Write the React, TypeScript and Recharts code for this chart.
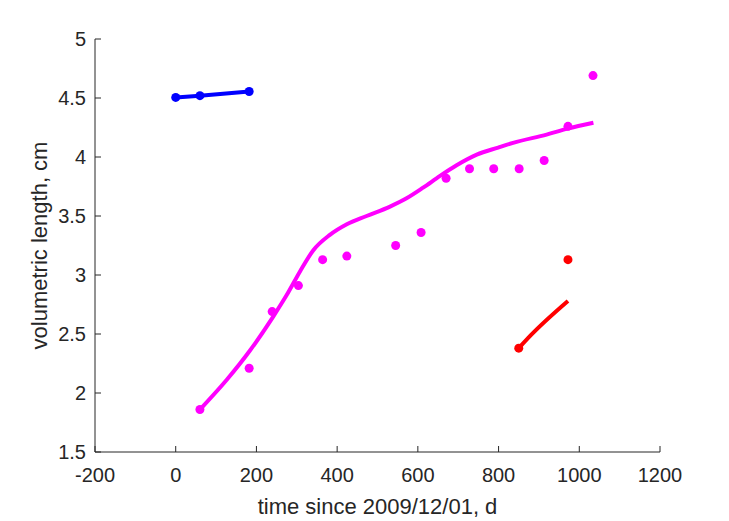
import { ComposedChart, Line, Scatter, XAxis, YAxis, Label } from "recharts";

// day offsets and lengths
const blueDays = [0, 60, 182];
const blueLength = [4.505, 4.52, 4.555];

const pinkDays = [60, 182, 239, 304, 364, 424, 545, 608, 670, 728, 788, 851, 913, 972, 1034];
const pinkLength = [1.86, 2.21, 2.69, 2.91, 3.13, 3.16, 3.25, 3.36, 3.82, 3.9, 3.9, 3.9, 3.97, 4.26, 4.69];

const fitDays = [60, 126, 184, 242, 275, 308, 341, 382, 424, 473, 531, 572, 613, 655, 696, 746, 799, 836, 919, 971, 1035];
const fitLength = [1.86, 2.11, 2.36, 2.65, 2.83, 3.03, 3.21, 3.34, 3.43, 3.5, 3.58, 3.65, 3.74, 3.84, 3.93, 4.02, 4.08, 4.12, 4.19, 4.24, 4.29];

const redDays = [850, 972];
const redLength = [2.38, 3.13];
const redFitDays = [850, 880, 972];
const redFitLength = [2.38, 2.49, 2.78];

const xTicks = [-200, 0, 200, 400, 600, 800, 1000, 1200];
const yTicks = [1.5, 2, 2.5, 3, 3.5, 4, 4.5, 5];

const zip = (xs: number[], ys: number[]) => xs.map((x, i) => ({ x, y: ys[i] }));

const blue = zip(blueDays, blueLength);
const pink = zip(pinkDays, pinkLength);
const fit = zip(fitDays, fitLength);
const red = zip(redDays, redLength);
const redFit = zip(redFitDays, redFitLength);

const ink = "#262626";
const font = "'Liberation Sans', Arial, sans-serif";

const XTick = ({ x, y, payload }: any) => (
  <g>
    <line x1={x} y1={y} x2={x} y2={y - 6} stroke={ink} />
    <text x={x} y={y + 30} textAnchor="middle" fill={ink} fontSize={20} fontFamily={font}>
      {payload.value}
    </text>
  </g>
);

const YTick = ({ x, y, payload }: any) => (
  <g>
    <line x1={x} y1={y} x2={x + 6} y2={y} stroke={ink} />
    <text x={x - 9} y={y + 7} textAnchor="end" fill={ink} fontSize={20} fontFamily={font}>
      {payload.value}
    </text>
  </g>
);

const dot = (color: string) => (p: any) => <circle cx={p.cx} cy={p.cy} r={4.5} fill={color} />;

export default function App() {
  return (
    <div style={{ position: "absolute", left: 0, top: 0, background: "#fff" }}>
      <ComposedChart width={729} height={521} margin={{ top: 39, right: 69, bottom: 9, left: 35 }}>
        <XAxis
          type="number"
          dataKey="x"
          domain={[-200, 1200]}
          ticks={xTicks}
          tick={<XTick />}
          tickLine={false}
          tickSize={0}
          tickMargin={0}
          height={60}
          stroke={ink}
          allowDuplicatedCategory={false}
        >
          <Label
            content={({ viewBox }: any) => (
              <text x={viewBox.x + viewBox.width / 2} y={viewBox.y + 62} textAnchor="middle" fill={ink} fontSize={22} fontFamily={font}>
                time since 2009/12/01, d
              </text>
            )}
          />
        </XAxis>
        <YAxis
          type="number"
          dataKey="y"
          domain={[1.5, 5]}
          ticks={yTicks}
          tick={<YTick />}
          tickLine={false}
          tickSize={0}
          tickMargin={0}
          width={60}
          stroke={ink}
        >
          <Label
            content={({ viewBox }: any) => {
              const cy = viewBox.y + viewBox.height / 2;
              return (
                <text x={47} y={cy} transform={`rotate(-90, 47, ${cy})`} textAnchor="middle" fill={ink} fontSize={22} fontFamily={font}>
                  volumetric length, cm
                </text>
              );
            }}
          />
        </YAxis>
        <Line data={fit} dataKey="y" type="monotone" stroke="#ff00ff" strokeWidth={4} dot={false} isAnimationActive={false} />
        <Scatter data={pink} dataKey="y" fill="#ff00ff" shape={dot("#ff00ff")} isAnimationActive={false} />
        <Line data={redFit} dataKey="y" type="monotone" stroke="#ff0000" strokeWidth={4} dot={false} isAnimationActive={false} />
        <Scatter data={red} dataKey="y" fill="#ff0000" shape={dot("#ff0000")} isAnimationActive={false} />
        <Line
          data={blue}
          dataKey="y"
          type="linear"
          stroke="#0000ff"
          strokeWidth={4}
          dot={{ r: 4.5, fill: "#0000ff", stroke: "none" }}
          isAnimationActive={false}
        />
      </ComposedChart>
    </div>
  );
}
